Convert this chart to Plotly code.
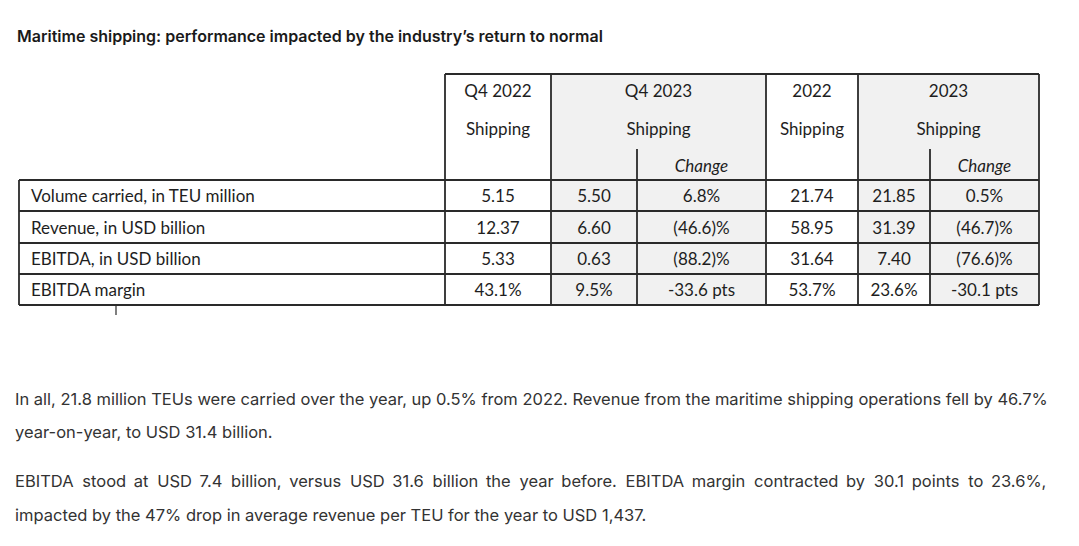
import plotly.graph_objects as go

# ---------------- data ----------------
title = "Maritime shipping: performance impacted by the industry’s return to normal"
metrics = ["Volume carried, in TEU million", "Revenue, in USD billion",
           "EBITDA, in USD billion", "EBITDA margin"]
q4_2022 = ["5.15", "12.37", "5.33", "43.1%"]
q4_2023 = ["5.50", "6.60", "0.63", "9.5%"]
q4_change = ["6.8%", "(46.6)%", "(88.2)%", "-33.6 pts"]
fy_2022 = ["21.74", "58.95", "31.64", "53.7%"]
fy_2023 = ["21.85", "31.39", "7.40", "23.6%"]
fy_change = ["0.5%", "(46.7)%", "(76.6)%", "-30.1 pts"]
periods = ["Q4 2022", "Q4 2023", "2022", "2023"]
segment = "Shipping"
change_label = "Change"
para_lines = [
    "In all, 21.8 million TEUs were carried over the year, up 0.5% from 2022. Revenue from the maritime shipping operations fell by 46.7%",
    "year-on-year, to USD 31.4 billion.",
    "EBITDA stood at USD 7.4 billion, versus USD 31.6 billion the year before. EBITDA margin contracted by 30.1 points to 23.6%,",
    "impacted by the 47% drop in average revenue per TEU for the year to USD 1,437.",
]
justified = [False, False, True, False]

# ---------------- layout constants ----------------
W, H = 1079, 546
LABEL_L, LABEL_R = 19, 445
COL_EDGES = [445, 551, 637, 766, 858, 930, 1039]
ROW_EDGES = [180, 211, 243, 274, 305]
HEAD_TOP = 74
CHANGE_LINE_TOP = 149
Y_PERIOD, Y_SEG, Y_CHANGE = 90, 128, 165
TEXT_DY = 2.5
GREY = "#f1f1f1"
LINE = "#2a2a2a"
TFONT = "Lato"
TSIZE = 17
TCOLOR = "#1e1e1e"
PFONT = "Inter"
PSIZE = 16.5

fig = go.Figure()
shapes = []

def rect(x0, y0, x1, y1, fill):
    shapes.append(dict(type="rect", x0=x0, y0=y0, x1=x1, y1=y1, xref="x", yref="y",
                       fillcolor=fill, line=dict(width=0), layer="below"))

def line(x0, y0, x1, y1, w=1.8):
    shapes.append(dict(type="line", x0=x0, y0=y0, x1=x1, y1=y1, xref="x", yref="y",
                       line=dict(color=LINE, width=w)))

# grey shading: Q4 2023 block and 2023 block
rect(COL_EDGES[1], HEAD_TOP, COL_EDGES[3], ROW_EDGES[-1], GREY)
rect(COL_EDGES[4], HEAD_TOP, COL_EDGES[6], ROW_EDGES[-1], GREY)
# white cell (2023, EBITDA margin)
rect(COL_EDGES[4], ROW_EDGES[3], COL_EDGES[5], ROW_EDGES[4], "white")

# header box lines
line(COL_EDGES[0], HEAD_TOP, COL_EDGES[-1], HEAD_TOP)
for xi in [0, 1, 3, 4, 6]:
    line(COL_EDGES[xi], HEAD_TOP, COL_EDGES[xi], ROW_EDGES[-1])
# change sub-column lines
for xi in [2, 5]:
    line(COL_EDGES[xi], CHANGE_LINE_TOP, COL_EDGES[xi], ROW_EDGES[-1])
# row lines
for yv in ROW_EDGES:
    line(LABEL_L, yv, COL_EDGES[-1], yv)
# label column edge
line(LABEL_L, ROW_EDGES[0], LABEL_L, ROW_EDGES[-1])
# small tick below table
line(116, ROW_EDGES[-1], 116, ROW_EDGES[-1] + 10, 1.2)

row_mid = [(ROW_EDGES[i] + ROW_EDGES[i + 1]) / 2 + TEXT_DY for i in range(len(metrics))]
col_mid = [(COL_EDGES[i] + COL_EDGES[i + 1]) / 2 for i in range(6)]
tfont = dict(family=TFONT, size=TSIZE, color=TCOLOR)

# row labels
fig.add_trace(go.Scatter(x=[LABEL_L + 12] * len(metrics), y=row_mid, mode="text",
                         text=metrics, textposition="middle right", textfont=tfont,
                         hoverinfo="skip", showlegend=False))
# values
for ci, col in enumerate([q4_2022, q4_2023, q4_change, fy_2022, fy_2023, fy_change]):
    fig.add_trace(go.Scatter(x=[col_mid[ci]] * len(col), y=row_mid, mode="text",
                             text=col, textposition="middle center", textfont=tfont,
                             hoverinfo="skip", showlegend=False))

# header texts
grp_mid = [col_mid[0], (COL_EDGES[1] + COL_EDGES[3]) / 2, col_mid[3], (COL_EDGES[4] + COL_EDGES[6]) / 2]
fig.add_trace(go.Scatter(x=grp_mid, y=[Y_PERIOD + TEXT_DY] * 4, mode="text", text=periods,
                         textposition="middle center", textfont=tfont,
                         hoverinfo="skip", showlegend=False))
fig.add_trace(go.Scatter(x=grp_mid, y=[Y_SEG + TEXT_DY] * 4, mode="text", text=[segment] * 4,
                         textposition="middle center", textfont=tfont,
                         hoverinfo="skip", showlegend=False))
fig.add_trace(go.Scatter(x=[col_mid[2], col_mid[5]], y=[Y_CHANGE + TEXT_DY] * 2, mode="text",
                         text=["<i>" + change_label + "</i>"] * 2,
                         textposition="middle center", textfont=tfont,
                         hoverinfo="skip", showlegend=False))

annotations = [dict(x=15, y=36, xref="x", yref="y", text=title, showarrow=False,
                    xanchor="left", yanchor="middle",
                    font=dict(family=PFONT, size=16, color="#1a1a1a", weight=600))]
para_y = [399, 432, 481, 515]
for txt, yv, just in zip(para_lines, para_y, justified):
    if just:
        words = txt.split(" ")
        out = words[0]
        for i, w in enumerate(words[1:]):
            out += (" \u2005" if i % 2 == 0 else " \u2009") + w
        txt = out
    annotations.append(dict(x=13, y=yv, xref="x", yref="y", text=txt, showarrow=False,
                            xanchor="left", yanchor="middle",
                            font=dict(family=PFONT, size=PSIZE, color="#333333")))

fig.update_layout(
    width=W, height=H, margin=dict(l=0, r=0, t=0, b=0),
    paper_bgcolor="white", plot_bgcolor="white",
    xaxis=dict(range=[0, W], visible=False, fixedrange=True),
    yaxis=dict(range=[H, 0], visible=False, fixedrange=True),
    shapes=shapes, annotations=annotations,
)

fig.write_html("out.html", post_script="document.body.style.margin='0px';",
               config={"displayModeBar": False})
